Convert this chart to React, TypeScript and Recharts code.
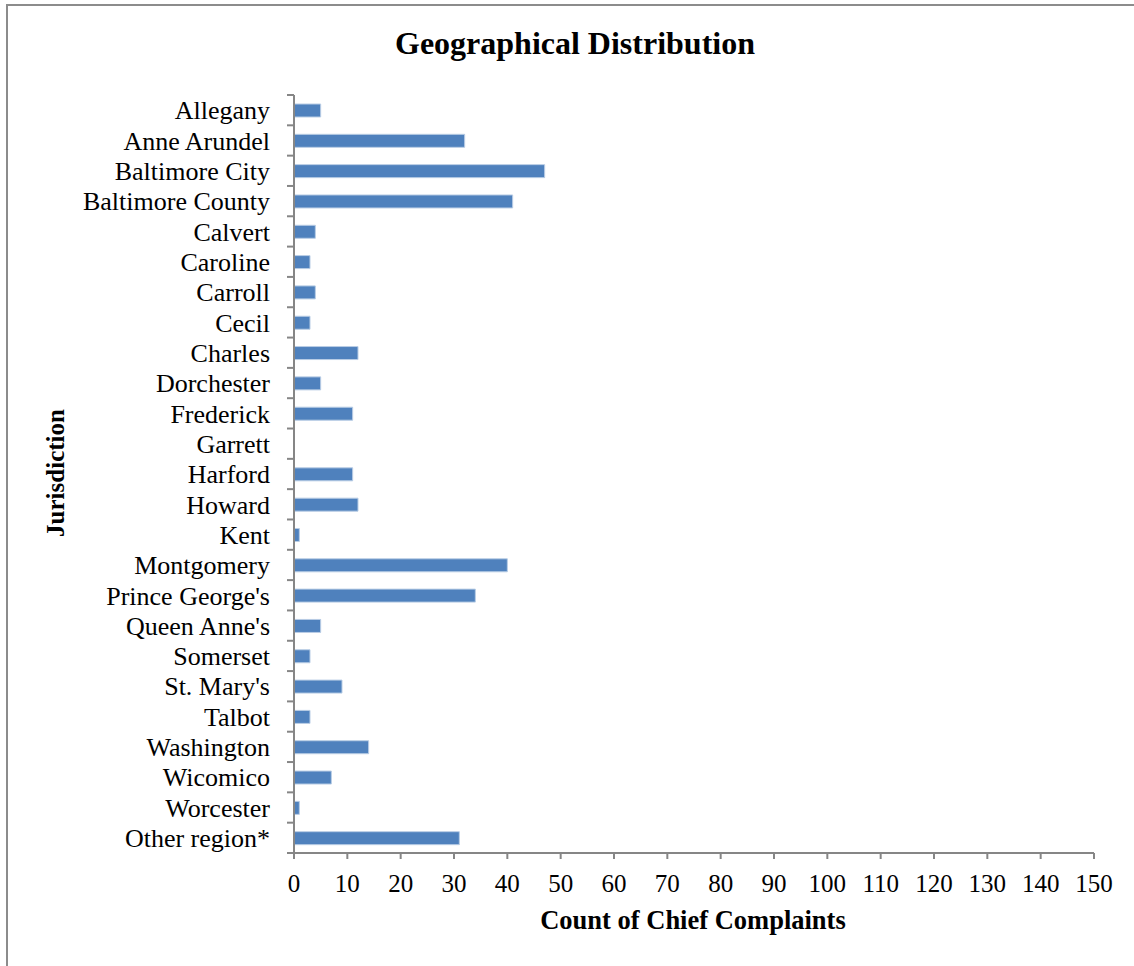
import { BarChart, Bar, XAxis, YAxis } from 'recharts'

const jurisdictions = [
  'Allegany',
  'Anne Arundel',
  'Baltimore City',
  'Baltimore County',
  'Calvert',
  'Caroline',
  'Carroll',
  'Cecil',
  'Charles',
  'Dorchester',
  'Frederick',
  'Garrett',
  'Harford',
  'Howard',
  'Kent',
  'Montgomery',
  "Prince George's",
  "Queen Anne's",
  'Somerset',
  "St. Mary's",
  'Talbot',
  'Washington',
  'Wicomico',
  'Worcester',
  'Other region*',
]

const complaintCounts = [5, 32, 47, 41, 4, 3, 4, 3, 12, 5, 11, 0, 11, 12, 1, 40, 34, 5, 3, 9, 3, 14, 7, 1, 31]

const xTicks = [0, 10, 20, 30, 40, 50, 60, 70, 80, 90, 100, 110, 120, 130, 140, 150]

const FONT = '"Liberation Serif", "Times New Roman", serif'
const AXIS_GRAY = '#868686'

const data = jurisdictions.map((name, i) => ({ name, count: complaintCounts[i] }))

// Excel-style category axis: tick marks sit between categories, not on them
function CategoryTick(props: any) {
  const { x, y, payload, index } = props
  const half = payload.offset ?? 0
  const axisX = x + 17
  const isLast = index === jurisdictions.length - 1
  return (
    <g>
      <text
        x={x}
        y={y}
        dy="0.355em"
        textAnchor="end"
        fontFamily={FONT}
        fontSize={26}
        fill="#000"
      >
        {payload.value}
      </text>
      <line x1={axisX} x2={axisX + 7} y1={y - half} y2={y - half} stroke={AXIS_GRAY} strokeWidth={2} />
      {isLast && (
        <line x1={axisX} x2={axisX + 7} y1={y + half} y2={y + half} stroke={AXIS_GRAY} strokeWidth={2} />
      )}
    </g>
  )
}

export default function App() {
  return (
    <div
      style={{
        position: 'absolute',
        left: 0,
        top: 0,
        width: 1134,
        height: 966,
        background: '#fff',
        overflow: 'hidden',
        fontFamily: FONT,
      }}
    >
      {/* chart frame, only left and top edges are in the crop */}
      <div
        style={{
          position: 'absolute',
          left: 6,
          top: 4,
          width: 1200,
          height: 1000,
          borderLeft: '2px solid #8c8c8c',
          borderTop: '2px solid #8c8c8c',
        }}
      />
      <div
        style={{
          position: 'absolute',
          left: 0,
          width: 1150,
          top: 25,
          textAlign: 'center',
          fontSize: 32,
          fontWeight: 'bold',
          lineHeight: '36px',
        }}
      >
        Geographical Distribution
      </div>
      <div
        style={{
          position: 'absolute',
          left: 56,
          top: 473,
          transform: 'translate(-50%, -50%) rotate(-90deg)',
          fontSize: 25,
          fontWeight: 'bold',
          whiteSpace: 'nowrap',
        }}
      >
        Jurisdiction
      </div>
      <div
        style={{
          position: 'absolute',
          left: 493,
          width: 400,
          top: 905,
          textAlign: 'center',
          fontSize: 26.5,
          fontWeight: 'bold',
          lineHeight: '30px',
          whiteSpace: 'nowrap',
        }}
      >
        Count of Chief Complaints
      </div>
      <div style={{ position: 'absolute', left: 0, top: 0 }}>
        <BarChart
          width={1134}
          height={966}
          data={data}
          layout="vertical"
          margin={{ top: 95, right: 40, bottom: 0, left: 0 }}
          barSize={13}
        >
          <XAxis
            type="number"
            domain={[0, 150]}
            ticks={xTicks}
            interval={0}
            height={113}
            tickSize={6}
            tickMargin={15}
            stroke={AXIS_GRAY}
            strokeWidth={2}
            tick={{ fill: '#000', fontSize: 25, fontFamily: FONT }}
          />
          <YAxis
            type="category"
            dataKey="name"
            width={294}
            interval={0}
            tickLine={false}
            tickSize={0}
            tickMargin={24}
            stroke={AXIS_GRAY}
            strokeWidth={2}
            tick={<CategoryTick />}
          />
          <Bar
            dataKey="count"
            fill="#4F81BD"
            stroke="#B9CDE5"
            strokeWidth={1}
            isAnimationActive={false}
          />
        </BarChart>
      </div>
    </div>
  )
}
